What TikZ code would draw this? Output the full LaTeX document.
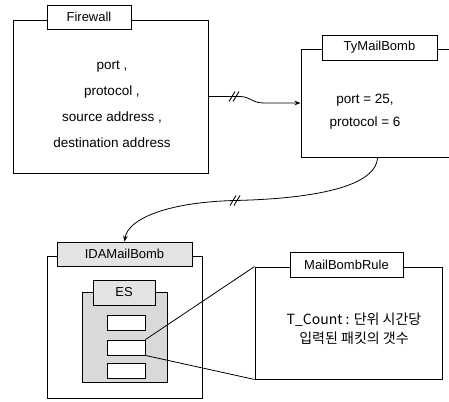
\documentclass[tikz,border=0pt]{standalone}
\usepackage{fontspec}
\setmainfont{Liberation Sans}
\newfontfamily\krfont{Noto Sans CJK KR}
\usetikzlibrary{arrows.meta,calc}
\tikzset{
  box/.style={draw, line width=0.9pt, inner sep=0pt, fill=white},
  tabw/.style={draw, line width=0.7pt, inner sep=0pt, fill=white, font=\fontsize{13}{14}\selectfont},
  tabg/.style={tabw, fill=gray!22},
  slot/.style={draw, line width=0.9pt, fill=white, inner sep=0pt, minimum width=38pt, minimum height=15pt},
  conn/.style={line width=0.8pt},
  arr/.style={conn, -{Stealth[length=6pt,width=4.5pt]}},
  slash/.style={line width=0.9pt},
  txt/.style={align=center, inner sep=0pt}
}
\begin{document}
\begin{tikzpicture}[x=1pt,y=-1pt]
\useasboundingbox (0,0) rectangle (449,401);
\clip (0,0) rectangle (449,401);
% Firewall
\node[box, minimum width=195pt, minimum height=153pt] (fw) at (110.5,96.5) {};
\node[tabw, minimum width=84pt, minimum height=24pt] (fwtab) at (89,17) {Firewall};
\node[txt, font=\fontsize{13.5}{26}\selectfont] (fwtxt) at (112,104.5) {port ,\\protocol ,\\source address ,\\destination address};
% TyMailBomb
\node[box, minimum width=169pt, minimum height=108pt] (tm) at (385.5,103) {};
\node[tabw, minimum width=115pt, minimum height=25pt] (tmtab) at (379.5,47.5) {TyMailBomb};
\node[txt, font=\fontsize{13.5}{23}\selectfont] (tmtxt) at (365,111.5) {port = 25,\\protocol = 6};
% IDAMailBomb
\node[box, minimum width=155pt, minimum height=142pt] (ida) at (124.5,327) {};
\node[tabg, minimum width=135pt, minimum height=24pt] (idatab) at (124.5,254) {IDAMailBomb};
\node[box, fill=gray!30, minimum width=85pt, minimum height=90pt] (es) at (124.5,337) {};
\node[tabg, minimum width=62pt, minimum height=25pt] (estab) at (124,292.5) {ES};
\node[slot] (r1) at (126,322.5) {};
\node[slot] (r2) at (126,347.5) {};
\node[slot] (r3) at (126,371) {};
% MailBombRule
\node[box, minimum width=187pt, minimum height=112pt] (mbr) at (348.5,323) {};
\node[tabw, minimum width=113pt, minimum height=25pt] (mbrtab) at (346.5,264.5) {MailBombRule};
\node[txt, font=\krfont\fontsize{14}{18.5}\selectfont] (mbrtxt) at (354,329) {T\_Count : 단위 시간당\\입력된 패킷의 갯수};
% connectors
\coordinate (m1) at (234,96.5);
\draw[arr] (fw.east) -- (m1) -- (240,96.5) .. controls (250,96.5) and (252,103) .. (264,103) -- (tm.west);
\draw[slash] ($(m1)+(-5,5)$) -- ($(m1)+(1,-5)$);
\draw[slash] ($(m1)+(-1,5)$) -- ($(m1)+(5,-5)$);
\coordinate (ts) at ($(tm.south west)+(77,0)$);
\coordinate (m2) at (235,200.5);
\draw[arr] (ts) .. controls (376,190) and (300,199) .. (m2) .. controls (170,202) and (128,218) .. (idatab.north);
\draw[slash] ($(m2)+(-5,5)$) -- ($(m2)+(1,-5)$);
\draw[slash] ($(m2)+(-1,5)$) -- ($(m2)+(5,-5)$);
\draw[conn] (r2.north east) -- (mbr.north west);
\draw[conn] (r2.south east) -- (mbr.south west);
\end{tikzpicture}
\end{document}
